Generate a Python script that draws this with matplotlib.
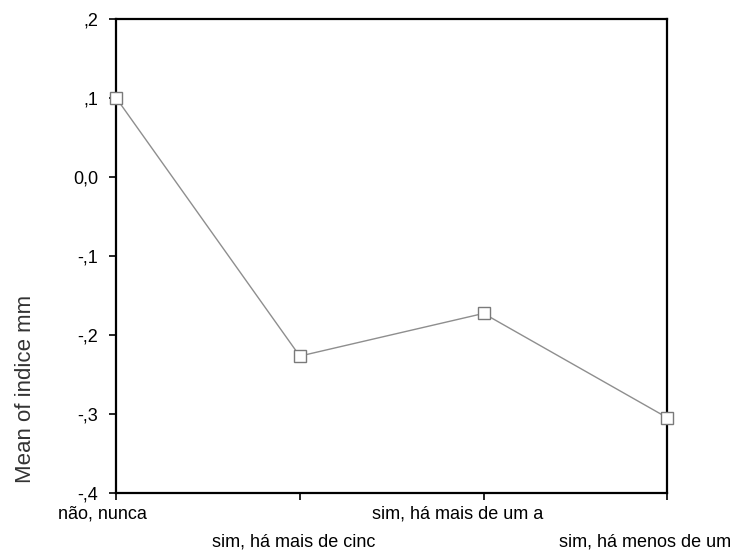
import matplotlib
matplotlib.use("Agg")
import matplotlib.pyplot as plt
import matplotlib.transforms as mtransforms

categories = ["não, nunca", "sim, há mais de cinc", "sim, há mais de um a", "sim, há menos de um"]
means = [0.100, -0.227, -0.173, -0.305]
yticks = [-0.4, -0.3, -0.2, -0.1, 0.0, 0.1, 0.2]
ytick_labels = ["-,4", "-,3", "-,2", "-,1", "0,0", ",1", ",2"]

# horizontal nudge (pixels) of each category label relative to its tick
label_shift = [-14, -6, -26, -22]

plt.rcParams["font.family"] = ["Liberation Sans", "DejaVu Sans"]

fig = plt.figure(figsize=(7.39, 5.5), dpi=100)
ax = fig.add_axes([0.157, 0.104, 0.746, 0.862])

x = list(range(len(categories)))
ax.plot(x, means, color="#8e8e8e", linewidth=1.0, marker="s", markersize=8.5,
        markerfacecolor="white", markeredgecolor="#7a7a7a", markeredgewidth=1.0,
        clip_on=False, zorder=3)

ax.set_xlim(0, len(categories) - 1)
ax.set_ylim(-0.4, 0.2)
ax.set_yticks(yticks)
ax.set_yticklabels(ytick_labels, fontsize=13)
ax.set_xticks(x)
ax.set_xticklabels([])

for s in ax.spines.values():
    s.set_linewidth(1.6)
    s.set_color("black")
ax.tick_params(axis="both", direction="out", length=5, width=1.2)
ax.tick_params(axis="y", pad=8)

# staggered category labels beneath the axis
for i, lab in enumerate(categories):
    off = mtransforms.offset_copy(ax.get_xaxis_transform(), fig=fig,
                                  x=label_shift[i], y=0, units="dots")
    ypos = -0.045 if i % 2 == 0 else -0.103
    ax.text(i, ypos, lab, transform=off, ha="center", va="center", fontsize=13)

ax.set_ylabel("Mean of indice mm", fontsize=16, color="#333333")
ax.yaxis.set_label_coords(-0.145, 0.22)

fig.savefig("out.png", dpi=100)
